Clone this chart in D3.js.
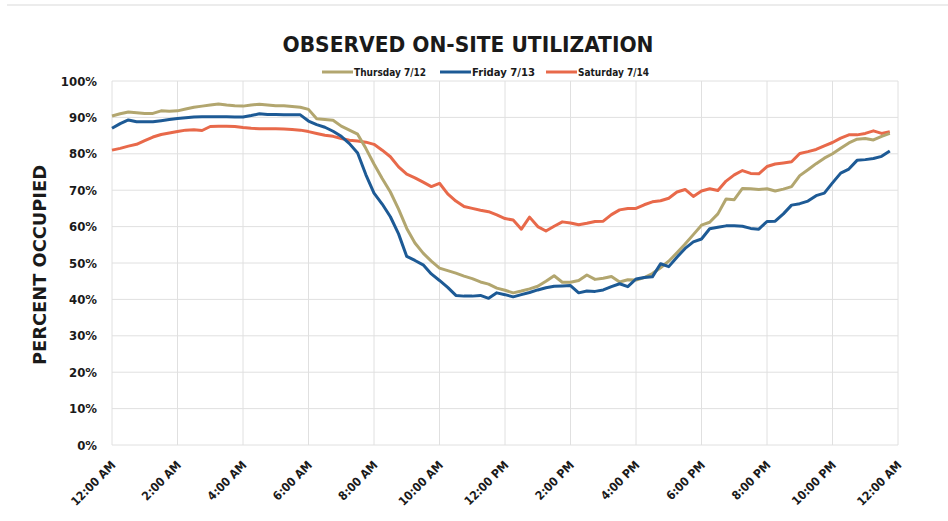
<!DOCTYPE html>
<html>
<head>
<meta charset="utf-8">
<script src="https://cdn.jsdelivr.net/npm/d3@7"></script>
<style>
  body { margin: 0; background: #ffffff; }
  text { font-family: "DejaVu Sans Condensed", "DejaVu Sans", sans-serif; font-weight: bold; }
</style>
</head>
<body>
<div id="chart"></div>
<script>
// ---------------- data (15 min steps, 12:00 AM -> 11:45 PM) ----------------
var series_names = ["Thursday 7/12", "Friday 7/13", "Saturday 7/14"];
var series_colors = ["#b2a66f", "#1d5a95", "#e8694a"];

var thursday = [90.4, 91.0, 91.5, 91.3, 91.1, 91.1, 91.8, 91.7, 91.8, 92.3, 92.8, 93.1,
  93.4, 93.7, 93.4, 93.2, 93.1, 93.4, 93.6, 93.4, 93.2, 93.2, 93.0, 92.8,
  92.2, 89.6, 89.4, 89.2, 87.6, 86.5, 85.4, 81.5, 77.2, 73.2, 69.5, 64.8,
  59.5, 55.5, 52.7, 50.5, 48.6, 47.9, 47.2, 46.4, 45.7, 44.8, 44.2, 43.1,
  42.5, 41.8, 42.3, 42.9, 43.6, 45.0, 46.5, 44.7, 44.7, 45.2, 46.7, 45.5,
  45.8, 46.3, 44.8, 45.4, 45.3, 46.0, 47.1, 48.7, 50.5, 52.8, 55.2, 57.8,
  60.4, 61.2, 63.5, 67.6, 67.4, 70.5, 70.4, 70.2, 70.4, 69.8, 70.3, 71.0,
  74.0, 75.6, 77.3, 78.8, 80.0, 81.5, 83.0, 84.0, 84.2, 83.8, 84.8, 85.6];

var friday = [87.0, 88.3, 89.3, 88.8, 88.8, 88.8, 89.1, 89.4, 89.7, 89.9, 90.1, 90.2,
  90.2, 90.2, 90.2, 90.1, 90.1, 90.5, 91.0, 90.8, 90.8, 90.7, 90.7, 90.7,
  89.0, 88.0, 87.3, 86.2, 84.8, 82.8, 80.2, 74.3, 69.2, 66.2, 62.7, 58.0,
  51.8, 50.7, 49.5, 47.0, 45.2, 43.3, 41.1, 40.9, 40.9, 41.1, 40.3, 41.8,
  41.3, 40.7, 41.3, 41.9, 42.6, 43.2, 43.6, 43.7, 43.8, 41.8, 42.3, 42.2,
  42.6, 43.5, 44.3, 43.5, 45.6, 46.0, 46.2, 49.8, 49.0, 51.6, 54.0, 55.8,
  56.6, 59.4, 59.8, 60.2, 60.2, 60.1, 59.5, 59.3, 61.4, 61.5, 63.5, 65.9,
  66.3, 67.0, 68.5, 69.2, 72.0, 74.7, 75.8, 78.2, 78.4, 78.7, 79.3, 80.8];

var saturday = [81.0, 81.5, 82.1, 82.6, 83.6, 84.6, 85.3, 85.7, 86.1, 86.5, 86.6, 86.4,
  87.5, 87.6, 87.6, 87.5, 87.2, 87.0, 86.9, 86.9, 86.9, 86.8, 86.7, 86.5,
  86.1, 85.6, 85.1, 84.8, 84.2, 83.7, 83.5, 83.2, 82.6, 81.0, 79.2, 76.4,
  74.4, 73.4, 72.2, 71.0, 71.9, 69.0, 67.0, 65.5, 65.0, 64.5, 64.1, 63.2,
  62.2, 61.8, 59.3, 62.6, 60.0, 58.8, 60.1, 61.3, 61.0, 60.5, 60.9, 61.4,
  61.5, 63.3, 64.6, 65.0, 65.0, 66.0, 66.8, 67.1, 67.8, 69.5, 70.2, 68.3,
  69.8, 70.4, 69.9, 72.5, 74.2, 75.4, 74.6, 74.5, 76.5, 77.2, 77.5, 77.8,
  80.1, 80.6, 81.2, 82.2, 83.1, 84.3, 85.2, 85.2, 85.6, 86.3, 85.6, 86.1];

var x_ticks = [0, 2, 4, 6, 8, 10, 12, 14, 16, 18, 20, 22, 24];
var x_labels = ["12:00 AM", "2:00 AM", "4:00 AM", "6:00 AM", "8:00 AM", "10:00 AM",
  "12:00 PM", "2:00 PM", "4:00 PM", "6:00 PM", "8:00 PM", "10:00 PM", "12:00 AM"];
var y_ticks = [0, 10, 20, 30, 40, 50, 60, 70, 80, 90, 100];

// ---------------- layout ----------------
var width = 948;
var height = 521;
var plot_left = 112, plot_right = 898, plot_top = 81, plot_bottom = 445;
let grid_color = "#e0e0e0";

var svg = d3.select("#chart").append("svg")
  .attr("width", width)
  .attr("height", height)
  .style("background", "#ffffff");

// faint frame of the original figure
svg.append("line")
  .attr("x1", 7).attr("y1", 5).attr("x2", width).attr("y2", 5)
  .style("stroke", "#e6e6e6").style("stroke-width", 1.5);

var xscale = d3.scaleLinear().domain([0, 24]).range([plot_left, plot_right]);
var yscale = d3.scaleLinear().domain([0, 100]).range([plot_bottom, plot_top]);

//---------------------- GRID ----------------------
var g_grid = svg.append("g").attr("id", "grid");

g_grid.selectAll("line.h")
  .data(y_ticks)
  .enter().append("line")
  .attr("class", "h")
  .attr("x1", plot_left).attr("x2", plot_right)
  .attr("y1", d => yscale(d)).attr("y2", d => yscale(d))
  .style("stroke", grid_color).style("stroke-width", 1);

g_grid.selectAll("line.v")
  .data(x_ticks)
  .enter().append("line")
  .attr("class", "v")
  .attr("y1", plot_top).attr("y2", plot_bottom)
  .attr("x1", d => xscale(d)).attr("x2", d => xscale(d))
  .style("stroke", grid_color).style("stroke-width", 1);

//---------------------- AXES ----------------------
var y_axis = d3.axisLeft(yscale)
  .tickValues(y_ticks)
  .tickFormat(d => d + "%")
  .tickSize(0)
  .tickPadding(15);

var g_y = svg.append("g")
  .attr("transform", "translate(" + plot_left + ",0)")
  .call(y_axis);
g_y.select(".domain").remove();
g_y.selectAll("text")
  .style("font-size", "13px")
  .style("fill", "#1a1a1a");

var x_axis = d3.axisBottom(xscale)
  .tickValues(x_ticks)
  .tickFormat((d, i) => x_labels[i])
  .tickSize(0);

var g_x = svg.append("g")
  .attr("transform", "translate(0," + plot_bottom + ")")
  .call(x_axis);
g_x.select(".domain").remove();
g_x.selectAll("text")
  .style("font-size", "12px")
  .style("fill", "#1a1a1a")
  .attr("text-anchor", "end")
  .attr("x", 0).attr("y", 0).attr("dy", "0.35em")
  .attr("transform", "translate(1,18) rotate(-45)");

// y title
svg.append("text")
  .attr("transform", "translate(46,265) rotate(-90)")
  .attr("text-anchor", "middle")
  .attr("textLength", 200)
  .attr("lengthAdjust", "spacingAndGlyphs")
  .style("font-size", "18px")
  .style("fill", "#1a1a1a")
  .text("PERCENT OCCUPIED");

//---------------------- TITLE + LEGEND ----------------------
svg.append("text")
  .attr("x", 468).attr("y", 52)
  .attr("text-anchor", "middle")
  .attr("textLength", 371)
  .attr("lengthAdjust", "spacingAndGlyphs")
  .style("font-size", "22px")
  .style("fill", "#1a1a1a")
  .text("OBSERVED ON-SITE UTILIZATION");

var legend_x = [322, 440, 546];
var legend_w = [72, 63, 71];
var g_leg = svg.append("g").attr("id", "legend");
series_names.forEach(function(name, i) {
  g_leg.append("line")
    .attr("x1", legend_x[i]).attr("x2", legend_x[i] + 31)
    .attr("y1", 72).attr("y2", 72)
    .style("stroke", series_colors[i]).style("stroke-width", 3);
  g_leg.append("text")
    .attr("x", legend_x[i] + 32).attr("y", 76)
    .attr("textLength", legend_w[i])
    .attr("lengthAdjust", "spacingAndGlyphs")
    .style("font-size", "11px")
    .style("fill", "#1a1a1a")
    .text(name);
});

//---------------------- LINES ----------------------
var line = d3.line()
  .x((d, i) => xscale(i * 0.25))
  .y(d => yscale(d));

var all_series = [thursday, friday, saturday];
var draw_order = [2, 0, 1];
draw_order.forEach(function(k) {
  svg.append("path")
    .datum(all_series[k])
    .attr("d", line)
    .style("fill", "none")
    .style("stroke", series_colors[k])
    .style("stroke-width", 3)
    .style("stroke-linejoin", "round");
});
</script>
</body>
</html>
